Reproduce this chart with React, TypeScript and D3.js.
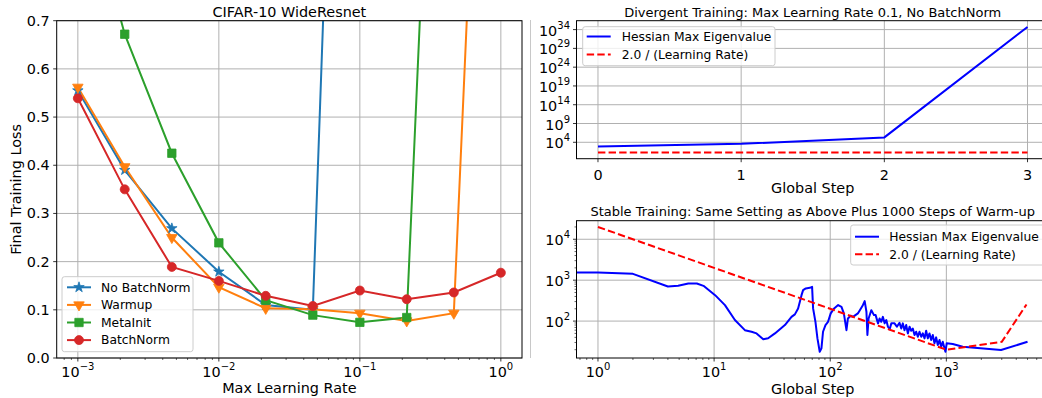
import React from "react";
import * as d3 from "d3";

// ---------------- DATA ----------------
// Left: CIFAR-10 WideResnet
const learningRates = [1e-3, 2.15e-3, 4.64e-3, 1e-2, 2.15e-2, 4.64e-2, 1e-1, 2.15e-1, 4.64e-1, 1];
const noBatchNormLoss = [0.555, 0.39, 0.269, 0.179, 0.11, 0.1, 2.85];
const warmupLoss = [0.562, 0.397, 0.25, 0.147, 0.103, 0.101, 0.093, 0.077, 0.093, 2.3];
const metaInitLoss = [1.03, 0.672, 0.425, 0.239, 0.12, 0.089, 0.074, 0.084, 2.3];
const batchNormLoss = [0.539, 0.35, 0.189, 0.16, 0.129, 0.108, 0.14, 0.122, 0.136, 0.177];
const leftYTicks = [0.0, 0.1, 0.2, 0.3, 0.4, 0.5, 0.6, 0.7];
const leftXTickExps = [-3, -2, -1, 0];
const seriesNames = ["No BatchNorm", "Warmup", "MetaInit", "BatchNorm"];

// Top right: divergent training
const divergentSteps = [0, 1, 2, 3];
const divergentEigen = [730, 3800, 2.0e5, 5e34];
const divergentTwoOverLr = [20, 20, 20, 20];
const divergentYTickExps = [4, 9, 14, 19, 24, 29, 34];
const divergentXTicks = [0, 1, 2, 3];

// Bottom right: stable training
const stableSteps = [
  0, 1, 2, 4, 4.9, 6, 7.1, 8.1, 10.2, 12.4, 15.1, 18.4, 21, 23.2, 26.5, 29.2, 33.4, 40.7, 46.4, 49.6,
  52.9, 56.6, 58.4, 61.6, 66.7, 69.8, 71.2, 74.6, 77.6, 81.2, 84, 86.7, 91, 95.7, 101, 108, 117, 125,
  131, 138, 142, 150, 157, 173, 191, 198, 205, 209, 214, 226, 238, 246, 258, 266, 275, 284, 294, 304,
  314, 325, 336, 358, 375, 395, 409, 422, 436, 451, 466, 482, 498, 514, 532, 550, 568, 587, 608, 627,
  649, 670, 692, 716, 740, 764, 790, 817, 844, 873, 902, 931, 964, 982, 1007, 1135, 1384, 2958, 5000,
];
const stableEigen = [
  1540, 1540, 1430, 700, 727, 830, 830, 727, 430, 245, 106, 60, 55, 50, 36, 38, 50, 80, 127, 146,
  204, 430, 570, 628, 649, 687, 204, 96, 37.8, 17.8, 21.6, 54.8, 80, 96, 154, 204, 246, 223,
  154, 60, 116, 135, 127, 154, 245, 307, 169, 45.6, 116, 185, 140, 140, 88, 116, 96, 127, 88, 106,
  73, 63, 88, 88, 73, 91, 66, 88, 60, 80, 50, 73, 58, 66, 45.6, 55, 41.4, 55, 41.4, 50,
  37.8, 58, 37.8, 50, 34.4, 45.6, 28.6, 40, 26, 34.4, 23.6, 31.3, 21.6, 17.8, 28.6, 27.5, 23.6, 19.6, 31.3,
];
const lrSteps = [1, 10, 100, 1000, 3000, 4900];
const stableTwoOverLr = [20000, 2000, 200, 20, 31, 255];
const stableXTickExps = [0, 1, 2, 3];
const stableYTickExps = [2, 3, 4];

const legendRight = ["Hessian Max Eigenvalue", "2.0 / (Learning Rate)"];

// ---------------- STYLE ----------------
const FONT = "DejaVu Sans, Verdana, sans-serif";
const GRID = "#b0b0b0";
const C = { blue: "#1f77b4", orange: "#ff7f0e", green: "#2ca02c", red: "#d62728" };
const LEG_FS = 12.3;
const RTITLE_FS = 13;

function Sup({ x, y, anchor, exp, size = 14.4 }: any) {
  return (
    <text x={x} y={y} textAnchor={anchor} fontSize={size} fontFamily={FONT} fill="#000">
      <tspan>10</tspan>
      <tspan dy={-7} fontSize={10}>{exp}</tspan>
    </text>
  );
}

function fmtExp(e: number) {
  return e < 0 ? "\u2212" + Math.abs(e) : String(e);
}

function markerPath(kind: string) {
  if (kind === "star") return d3.symbol().type(d3.symbolStar).size(34)() as string;
  if (kind === "tri") return d3.symbol().type(d3.symbolTriangle).size(48)() as string;
  if (kind === "square") return d3.symbol().type(d3.symbolSquare).size(70)() as string;
  return d3.symbol().type(d3.symbolCircle).size(64)() as string;
}

function Marker({ kind, x, y, color }: any) {
  const rot = kind === "tri" ? " rotate(180)" : "";
  return <path d={markerPath(kind)} transform={`translate(${x},${y})${rot}`} fill={color} stroke={color} strokeWidth={0.8} />;
}

function logPad(vals: number[], frac = 0.05) {
  const lo = Math.log10(d3.min(vals) as number);
  const hi = Math.log10(d3.max(vals) as number);
  const p = (hi - lo) * frac;
  return [10 ** (lo - p), 10 ** (hi + p)];
}

function minorLogTicks(domain: number[]) {
  const out: number[] = [];
  const lo = Math.floor(Math.log10(domain[0]));
  const hi = Math.ceil(Math.log10(domain[1]));
  for (let e = lo; e <= hi; e++) {
    for (let m = 2; m <= 9; m++) {
      const v = m * 10 ** e;
      if (v >= domain[0] && v <= domain[1]) out.push(v);
    }
  }
  return out;
}

export default function App() {
  // ---------- Left panel ----------
  const L = { left: 56.7, right: 522, top: 20.7, bottom: 358 };
  const lxDomain = [10 ** -3.15, 10 ** 0.15];
  const lx = d3.scaleLog().domain(lxDomain).range([L.left, L.right]);
  const ly = d3.scaleLinear().domain([0, 0.7]).range([L.bottom, L.top]);
  const leftSeries = [
    { name: seriesNames[0], vals: noBatchNormLoss, color: C.blue, marker: "star" },
    { name: seriesNames[1], vals: warmupLoss, color: C.orange, marker: "tri" },
    { name: seriesNames[2], vals: metaInitLoss, color: C.green, marker: "square" },
    { name: seriesNames[3], vals: batchNormLoss, color: C.red, marker: "circle" },
  ];
  const leftLine = d3
    .line<number>()
    .x((_, i) => lx(learningRates[i]))
    .y((d) => ly(d));

  // ---------- Right panels ----------
  const RT = { left: 576.5, right: 1049, top: 20.7, bottom: 158.7 };
  const RB = { left: 576.5, right: 1049, top: 220.7, bottom: 358 };

  const tx = d3.scaleLinear().domain([-0.15, 3.15]).range([RT.left, RT.right]);
  const ty = d3
    .scaleLog()
    .domain(logPad([...divergentEigen, ...divergentTwoOverLr]))
    .range([RT.bottom, RT.top]);
  const topLine = (vals: number[]) =>
    d3
      .line<number>()
      .x((_, i) => tx(divergentSteps[i]))
      .y((d) => ty(d))(vals) as string;

  const bxDomain = logPad([...stableSteps.filter((s) => s > 0), ...lrSteps]);
  const bx = d3.scaleLog().domain(bxDomain).range([RB.left, RB.right]);
  const byDomain = logPad([...stableEigen, ...stableTwoOverLr]);
  const by = d3.scaleLog().domain(byDomain).range([RB.bottom, RB.top]);
  const bxSafe = (s: number) => (s > 0 ? bx(s) : RB.left - 20);
  const eigenLine = d3
    .line<number>()
    .x((_, i) => bxSafe(stableSteps[i]))
    .y((d) => by(d))(stableEigen) as string;
  const lrLine = d3
    .line<number>()
    .x((_, i) => bx(lrSteps[i]))
    .y((d) => by(d))(stableTwoOverLr) as string;

  const lxMinor = minorLogTicks(lxDomain);
  const bxMinor = minorLogTicks(bxDomain);
  const byMinor = minorLogTicks(byDomain);

  const frame = (b: any) => (
    <rect x={b.left} y={b.top} width={b.right - b.left} height={b.bottom - b.top} fill="none" stroke="#000" strokeWidth={1} />
  );

  return (
    <svg width={1042} height={398} style={{ position: "absolute", left: 0, top: 0, background: "#fff" }} fontFamily={FONT}>
      <defs>
        <clipPath id="clipL">
          <rect x={L.left} y={L.top} width={L.right - L.left} height={L.bottom - L.top} />
        </clipPath>
        <clipPath id="clipRT">
          <rect x={RT.left} y={RT.top} width={RT.right - RT.left} height={RT.bottom - RT.top} />
        </clipPath>
        <clipPath id="clipRB">
          <rect x={RB.left} y={RB.top} width={RB.right - RB.left} height={RB.bottom - RB.top} />
        </clipPath>
      </defs>
      <rect x={0} y={0} width={1042} height={398} fill="#fff" />

      {/* separator */}
      <line x1={530.5} x2={530.5} y1={20} y2={358} stroke="#c8c8c8" strokeWidth={1} />

      {/* ================= LEFT ================= */}
      <g>
        {leftYTicks.map((t) => (
          <line key={"lg" + t} x1={L.left} x2={L.right} y1={ly(t)} y2={ly(t)} stroke={GRID} strokeWidth={1} />
        ))}
        {leftXTickExps.map((e) => (
          <line key={"lgx" + e} x1={lx(10 ** e)} x2={lx(10 ** e)} y1={L.top} y2={L.bottom} stroke={GRID} strokeWidth={1} />
        ))}
        <g clipPath="url(#clipL)">
          {leftSeries.map((s) => (
            <path key={s.name} d={leftLine(s.vals) as string} fill="none" stroke={s.color} strokeWidth={2} />
          ))}
          {leftSeries.map((s) =>
            s.vals.map((v, i) => (
              <Marker key={s.name + i} kind={s.marker} x={lx(learningRates[i])} y={ly(v)} color={s.color} />
            ))
          )}
        </g>
        {frame(L)}
        {leftYTicks.map((t) => (
          <g key={"ly" + t}>
            <line x1={L.left - 3.5} x2={L.left} y1={ly(t)} y2={ly(t)} stroke="#000" strokeWidth={0.8} />
            <text x={L.left - 7} y={ly(t) + 5} textAnchor="end" fontSize={14.4}>
              {t.toFixed(1)}
            </text>
          </g>
        ))}
        {leftXTickExps.map((e) => (
          <g key={"lx" + e}>
            <line x1={lx(10 ** e)} x2={lx(10 ** e)} y1={L.bottom} y2={L.bottom + 3.5} stroke="#000" strokeWidth={0.8} />
            <Sup x={lx(10 ** e)} y={377} anchor="middle" exp={fmtExp(e)} />
          </g>
        ))}
        {lxMinor.map((v) => (
          <line key={"lm" + v} x1={lx(v)} x2={lx(v)} y1={L.bottom} y2={L.bottom + 2} stroke="#000" strokeWidth={0.6} />
        ))}
        <text x={(L.left + L.right) / 2} y={16.5} textAnchor="middle" fontSize={14.4}>
          CIFAR-10 WideResnet
        </text>
        <text x={(L.left + L.right) / 2} y={392.5} textAnchor="middle" fontSize={14.4}>
          Max Learning Rate
        </text>
        <text transform={`translate(20.8,${(L.top + L.bottom) / 2}) rotate(-90)`} textAnchor="middle" fontSize={14.4}>
          Final Training Loss
        </text>
        {/* legend */}
        <rect x={62} y={276.7} width={131} height={75} rx={2.5} fill="#fff" fillOpacity={0.8} stroke="#cccccc" strokeWidth={1} />
        {leftSeries.map((s, i) => {
          const yy = 287.3 + i * 17.6;
          return (
            <g key={"leg" + s.name}>
              <line x1={67} x2={91} y1={yy} y2={yy} stroke={s.color} strokeWidth={2} />
              <Marker kind={s.marker} x={79} y={yy} color={s.color} />
              <text x={101} y={yy + 4.3} fontSize={LEG_FS}>
                {s.name}
              </text>
            </g>
          );
        })}
      </g>

      {/* ================= TOP RIGHT ================= */}
      <g>
        {divergentYTickExps.map((e) => (
          <line key={"tg" + e} x1={RT.left} x2={RT.right} y1={ty(10 ** e)} y2={ty(10 ** e)} stroke={GRID} strokeWidth={1} />
        ))}
        {divergentXTicks.map((t) => (
          <line key={"tgx" + t} x1={tx(t)} x2={tx(t)} y1={RT.top} y2={RT.bottom} stroke={GRID} strokeWidth={1} />
        ))}
        <g clipPath="url(#clipRT)">
          <path d={topLine(divergentEigen)} fill="none" stroke="#0000ff" strokeWidth={2} />
          <path d={topLine(divergentTwoOverLr)} fill="none" stroke="#ff0000" strokeWidth={2} strokeDasharray="7.4,3.2" />
        </g>
        {frame(RT)}
        {divergentYTickExps.map((e) => (
          <g key={"ty" + e}>
            <line x1={RT.left - 3.5} x2={RT.left} y1={ty(10 ** e)} y2={ty(10 ** e)} stroke="#000" strokeWidth={0.8} />
            <Sup x={570} y={ty(10 ** e) + 6} anchor="end" exp={fmtExp(e)} />
          </g>
        ))}
        {divergentXTicks.map((t) => (
          <g key={"tx" + t}>
            <line x1={tx(t)} x2={tx(t)} y1={RT.bottom} y2={RT.bottom + 3.5} stroke="#000" strokeWidth={0.8} />
            <text x={tx(t)} y={180} textAnchor="middle" fontSize={14.4}>
              {t}
            </text>
          </g>
        ))}
        <text x={812.7} y={16.5} textAnchor="middle" fontSize={RTITLE_FS}>
          Divergent Training: Max Learning Rate 0.1, No BatchNorm
        </text>
        <text x={812.7} y={192.5} textAnchor="middle" fontSize={14.4}>
          Global Step
        </text>
        <rect x={582.7} y={26.7} width={192.3} height={39} rx={2.5} fill="#fff" fillOpacity={0.8} stroke="#cccccc" strokeWidth={1} />
        <line x1={586.7} x2={610.7} y1={36.5} y2={36.5} stroke="#0000ff" strokeWidth={2} />
        <line x1={586.7} x2={610.7} y1={54.5} y2={54.5} stroke="#ff0000" strokeWidth={2} strokeDasharray="7.4,3.2" />
        <text x={621.7} y={40.8} fontSize={LEG_FS}>
          {legendRight[0]}
        </text>
        <text x={621.7} y={58.8} fontSize={LEG_FS}>
          {legendRight[1]}
        </text>
      </g>

      {/* ================= BOTTOM RIGHT ================= */}
      <g>
        {stableYTickExps.map((e) => (
          <line key={"bg" + e} x1={RB.left} x2={RB.right} y1={by(10 ** e)} y2={by(10 ** e)} stroke={GRID} strokeWidth={1} />
        ))}
        {stableXTickExps.map((e) => (
          <line key={"bgx" + e} x1={bx(10 ** e)} x2={bx(10 ** e)} y1={RB.top} y2={RB.bottom} stroke={GRID} strokeWidth={1} />
        ))}
        <g clipPath="url(#clipRB)">
          <path d={eigenLine} fill="none" stroke="#0000ff" strokeWidth={2} strokeLinejoin="round" />
          <path d={lrLine} fill="none" stroke="#ff0000" strokeWidth={2} strokeDasharray="7.4,3.2" />
        </g>
        {frame(RB)}
        {stableYTickExps.map((e) => (
          <g key={"by" + e}>
            <line x1={RB.left - 3.5} x2={RB.left} y1={by(10 ** e)} y2={by(10 ** e)} stroke="#000" strokeWidth={0.8} />
            <Sup x={570} y={by(10 ** e) + 6} anchor="end" exp={fmtExp(e)} />
          </g>
        ))}
        {byMinor.map((v) => (
          <line key={"bym" + v} x1={RB.left - 2} x2={RB.left} y1={by(v)} y2={by(v)} stroke="#000" strokeWidth={0.6} />
        ))}
        {stableXTickExps.map((e) => (
          <g key={"bx" + e}>
            <line x1={bx(10 ** e)} x2={bx(10 ** e)} y1={RB.bottom} y2={RB.bottom + 3.5} stroke="#000" strokeWidth={0.8} />
            <Sup x={bx(10 ** e)} y={377} anchor="middle" exp={fmtExp(e)} />
          </g>
        ))}
        {bxMinor.map((v) => (
          <line key={"bxm" + v} x1={bx(v)} x2={bx(v)} y1={RB.bottom} y2={RB.bottom + 2} stroke="#000" strokeWidth={0.6} />
        ))}
        <text x={812.7} y={216} textAnchor="middle" fontSize={RTITLE_FS}>
          Stable Training: Same Setting as Above Plus 1000 Steps of Warm-up
        </text>
        <text x={812.7} y={393.5} textAnchor="middle" fontSize={14.4}>
          Global Step
        </text>
        <rect x={850.7} y={225} width={200} height={40} rx={2.5} fill="#fff" fillOpacity={0.8} stroke="#cccccc" strokeWidth={1} />
        <line x1={855} x2={879} y1={236.7} y2={236.7} stroke="#0000ff" strokeWidth={2} />
        <line x1={855} x2={879} y1={254.3} y2={254.3} stroke="#ff0000" strokeWidth={2} strokeDasharray="7.4,3.2" />
        <text x={889.3} y={241} fontSize={LEG_FS}>
          {legendRight[0]}
        </text>
        <text x={889.3} y={258.6} fontSize={LEG_FS}>
          {legendRight[1]}
        </text>
      </g>
    </svg>
  );
}
